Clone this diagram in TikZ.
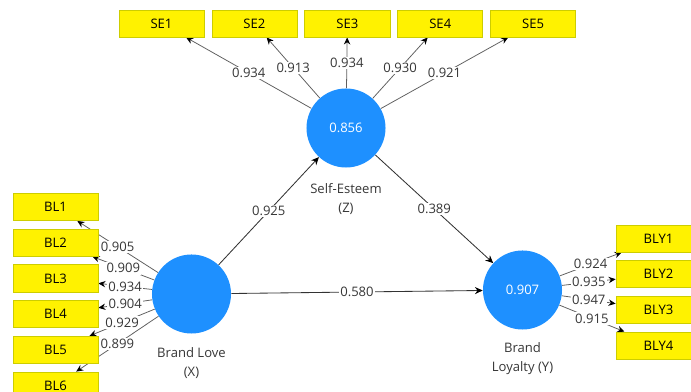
\documentclass[tikz,border=0pt]{standalone}
\usepackage{fontspec}
\setmainfont{Open Sans}
\usetikzlibrary{positioning, arrows.meta, backgrounds}
\definecolor{latentblue}{RGB}{30,144,255}
\definecolor{boxedge}{RGB}{205,205,0}
\definecolor{linegray}{RGB}{95,95,95}
\definecolor{textgray}{RGB}{55,55,55}
\tikzset{
  % Latent variables
  latent/.style={
    circle, fill=latentblue, draw=none, minimum size=1.975cm,
    inner sep=0pt, text=white, font=\fontsize{9.3}{11}\selectfont
  },
  latentname/.style={
    align=center, inner sep=0pt, text=textgray,
    font=\fontsize{9.3}{13.5}\selectfont
  },
  % Indicators
  indicator/.style={
    draw=boxedge, fill=yellow, line width=0.5pt,
    minimum width=2.125cm, minimum height=0.68cm, inner sep=0pt,
    font=\fontsize{9.3}{11}\selectfont
  },
  % Outer loadings / path coefficients
  loading/.style={
    draw=linegray, line width=0.55pt,
    -{Stealth[length=5pt, width=4.5pt, color=black]}
  },
  structural/.style={
    draw=black!80, line width=0.6pt,
    -{Stealth[length=5.5pt, width=5pt, color=black]}
  },
  coef/.style={
    fill=white, inner sep=1pt, text=textgray,
    font=\fontsize{9.3}{11}\selectfont
  },
}

\begin{document}
\begin{tikzpicture}[x=0.025cm, y=-0.025cm, node distance=0.18cm]

  \useasboundingbox (0,0) rectangle (691,392);
  \clip (0,0) rectangle (691,392);

  %% -- Latent variables --
  \node[latent] (z) at (346,128)   {0.856};
  \node[latent] (x) at (191.5,294) {};
  \node[latent] (y) at (522.5,290) {0.907};

  \node[latentname, below=0.38cm of z] (zname) {Self-Esteem\\(Z)};
  \node[latentname, below=0.33cm of x] (xname) {Brand Love\\(X)};
  \node[latentname, below=0.31cm of y] (yname) {Brand\\Loyalty (Y)};

  %% -- Indicators --
  \node[indicator] (se1) at (161.5,23.5) {SE1};
  \node[indicator, right=of se1] (se2) {SE2};
  \node[indicator, right=of se2] (se3) {SE3};
  \node[indicator, right=of se3] (se4) {SE4};
  \node[indicator, right=of se4] (se5) {SE5};

  \node[indicator] (bl1) at (55.5,207) {BL1};
  \node[indicator, below=0.195cm of bl1] (bl2) {BL2};
  \node[indicator, below=0.195cm of bl2] (bl3) {BL3};
  \node[indicator, below=0.195cm of bl3] (bl4) {BL4};
  \node[indicator, below=0.195cm of bl4] (bl5) {BL5};
  \node[indicator, below=0.195cm of bl5] (bl6) {BL6};

  \node[indicator] (bly1) at (658.5,238.5) {BLY1};
  \node[indicator, below=0.195cm of bly1] (bly2) {BLY2};
  \node[indicator, below=0.195cm of bly2] (bly3) {BLY3};
  \node[indicator, below=0.195cm of bly3] (bly4) {BLY4};

  %% -- Connectors (behind the boxes) --
  \begin{scope}[on background layer]
    \draw[loading] (z) -- node[coef] {0.934} (se1);
    \draw[loading] (z) -- node[coef] {0.913} (se2);
    \draw[loading] (z) -- node[coef] {0.934} (se3);
    \draw[loading] (z) -- node[coef] {0.930} (se4);
    \draw[loading] (z) -- node[coef] {0.921} (se5);

    \draw[loading] (x) -- node[coef] {0.905} (bl1);
    \draw[loading] (x) -- node[coef] {0.909} (bl2);
    \draw[loading] (x) -- node[coef] {0.934} (bl3);
    \draw[loading] (x) -- node[coef] {0.904} (bl4);
    \draw[loading] (x) -- node[coef] {0.929} (bl5);
    \draw[loading] (x) -- node[coef] {0.899} (bl6);

    \draw[loading] (y) -- node[coef] {0.924} (bly1);
    \draw[loading] (y) -- node[coef] {0.935} (bly2);
    \draw[loading] (y) -- node[coef] {0.947} (bly3);
    \draw[loading] (y) -- node[coef] {0.915} (bly4);

    \draw[structural] (x) -- node[coef] {0.925} (z);
    \draw[structural] (z) -- node[coef] {0.389} (y);
    \draw[structural] (x) -- node[coef] {0.580} (y);
  \end{scope}

\end{tikzpicture}
\end{document}
